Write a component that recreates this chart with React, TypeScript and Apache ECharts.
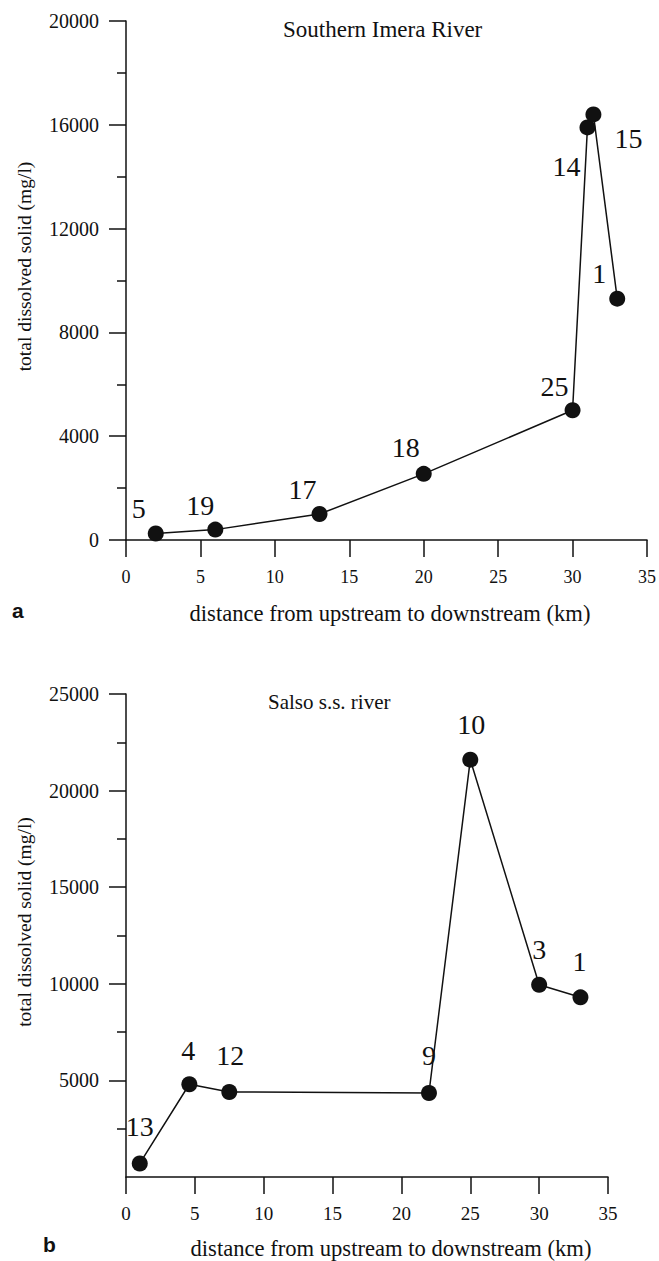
import React, { useEffect, useRef } from "react";
import * as echarts from "echarts";

// Southern Imera River (panel a)
const imeraStations = ["5", "19", "17", "18", "25", "14", "15", "1"];
const imeraDistanceKm = [2, 6, 13, 20, 30, 31, 31.4, 33];
const imeraTds = [250, 400, 1000, 2550, 5000, 15900, 16400, 9300];

// Salso s.s. river (panel b)
const salsoStations = ["13", "4", "12", "9", "10", "3", "1"];
const salsoDistanceKm = [1, 4.6, 7.5, 22, 25, 30, 33];
const salsoTds = [700, 4800, 4400, 4350, 21600, 9950, 9300];

// Axis ranges
const xRange = [0, 35, 5];
const imeraYRange = [0, 20000, 4000];
const salsoYRange = [0, 25000, 5000];
// Panel b has no tick or label at 0 on its y axis
const salsoYTicks = [5000, 10000, 15000, 20000, 25000];

// Texts
const imeraTitle = "Southern Imera River";
const salsoTitle = "Salso s.s. river";
const xName = "distance from upstream to downstream (km)";
const yName = "total dissolved solid (mg/l)";

// Layout only: label offsets (px) relative to each marker
const imeraLabelOffsets = [[-17, -25], [-15, -24], [-17, -25], [-18, -26], [-18, -24], [-21, 39], [35, 24], [-18, -25]];
const salsoLabelOffsets = [[0, -37], [-1, -34], [1, -36], [0, -37], [1, -35], [0, -35], [-1, -36]];

const SERIF = "Liberation Serif";
const INK = "#111";

function buildData(xs: number[], ys: number[], names: string[], offsets: number[][]) {
  return xs.map((x, i) => ({
    value: [x, ys[i]],
    name: names[i],
    label: { offset: offsets[i] },
  }));
}

function xAxis(gridIndex: number, labelSize: number, margin: number, nameGap: number, namePadLeft: number) {
  return {
    type: "value",
    gridIndex,
    min: xRange[0],
    max: xRange[1],
    interval: xRange[2],
    name: xName,
    nameLocation: "middle",
    nameGap,
    nameTextStyle: { fontFamily: SERIF, fontSize: 22.6, color: INK, padding: [0, 0, 0, namePadLeft] },
    axisLine: { show: true, onZero: false, lineStyle: { color: INK, width: 1.5 } },
    axisTick: { show: true, inside: false, length: 17, lineStyle: { color: INK, width: 1.5 } },
    axisLabel: { fontFamily: SERIF, fontSize: labelSize, color: INK, margin, formatter: (v: number) => String(v) },
    splitLine: { show: false },
  };
}

function yAxis(gridIndex: number, range: number[], customTicks: number[] | null, namePadLeft: number) {
  const tick: any = { show: true, inside: false, length: 17, lineStyle: { color: INK, width: 1.5 } };
  const label: any = { fontFamily: SERIF, fontSize: 20, color: INK, margin: 27, formatter: (v: number) => String(v) };
  if (customTicks) {
    tick.customValues = customTicks;
    label.customValues = customTicks;
  }
  return {
    type: "value",
    gridIndex,
    min: range[0],
    max: range[1],
    interval: range[2],
    name: yName,
    nameLocation: "middle",
    nameGap: 92,
    nameTextStyle: { fontFamily: SERIF, fontSize: 19.5, color: INK, padding: [0, 0, 0, namePadLeft] },
    axisLine: { show: true, onZero: false, lineStyle: { color: INK, width: 1.5 } },
    axisTick: tick,
    minorTick: { show: true, splitNumber: 2, length: 9, lineStyle: { color: INK, width: 1.5 } },
    axisLabel: label,
    splitLine: { show: false },
    minorSplitLine: { show: false },
  };
}

function lineSeries(idx: number, data: any[]) {
  return {
    type: "line",
    xAxisIndex: idx,
    yAxisIndex: idx,
    data,
    symbol: "circle",
    symbolSize: 16,
    showAllSymbol: true,
    lineStyle: { color: INK, width: 1.5 },
    itemStyle: { color: INK },
    label: {
      show: true,
      position: "inside",
      formatter: (p: any) => p.name,
      fontFamily: SERIF,
      fontSize: 28,
      color: INK,
      align: "center",
      verticalAlign: "middle",
    },
    emphasis: { disabled: true },
  };
}

export default function App() {
  const ref = useRef<HTMLDivElement>(null);

  useEffect(() => {
    if (!ref.current) return;
    const chart = echarts.init(ref.current, undefined, { renderer: "svg" });
    chart.setOption({
      animation: false,
      backgroundColor: "#fff",
      textStyle: { fontFamily: SERIF },
      title: [
        { text: imeraTitle, left: 278, top: 13, textStyle: { fontFamily: SERIF, fontSize: 23, fontWeight: "normal", color: INK } },
        { text: salsoTitle, left: 263, top: 686, textStyle: { fontFamily: SERIF, fontSize: 21, fontWeight: "normal", color: INK } },
      ],
      grid: [
        { left: 126, top: 21, width: 523, height: 519, containLabel: false },
        { left: 126, top: 694, width: 482, height: 483, containLabel: false },
      ],
      xAxis: [xAxis(0, 18, 28, 62, 7), xAxis(1, 19, 27, 60, 48)],
      yAxis: [yAxis(0, imeraYRange, null, 28), yAxis(1, salsoYRange, salsoYTicks, 27)],
      series: [
        lineSeries(0, buildData(imeraDistanceKm, imeraTds, imeraStations, imeraLabelOffsets)),
        lineSeries(1, buildData(salsoDistanceKm, salsoTds, salsoStations, salsoLabelOffsets)),
      ],
      graphic: [
        { type: "text", left: 12, top: 600, style: { text: "a", font: "bold 21px Liberation Sans", fill: INK } },
        { type: "text", left: 43, top: 1234, style: { text: "b", font: "bold 21px Liberation Sans", fill: INK } },
      ],
    });
    return () => chart.dispose();
  }, []);

  return (
    <div
      ref={ref}
      style={{ position: "absolute", left: 0, top: 0, width: 659, height: 1261, background: "#fff" }}
    />
  );
}
